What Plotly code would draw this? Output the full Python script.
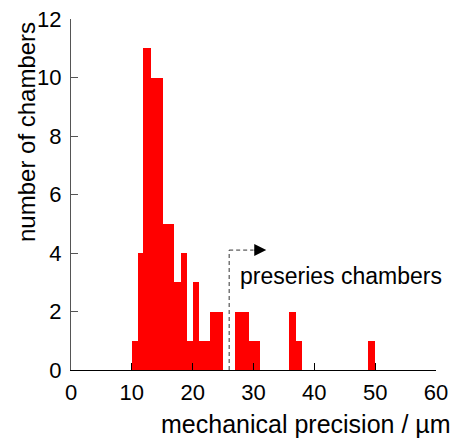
import plotly.graph_objects as go

# Histogram data (bin edges in µm, counts per bin)
bin_edges_main = [10.1, 11.0, 11.9, 13.2, 15.1, 17.0, 18.0, 19.1, 20.0, 21.1, 22.8, 25.0]
counts_main = [1, 4, 11, 10, 5, 3, 4, 1, 3, 1, 2]
bin_edges_b = [27.0, 29.2, 31.1]
counts_b = [2, 1]
bin_edges_c = [35.9, 37.0, 37.9]
counts_c = [2, 1]
bin_edges_d = [48.9, 50.0]
counts_d = [1]

x_ticks = [0, 10, 20, 30, 40, 50, 60]
y_ticks = [0, 2, 4, 6, 8, 10, 12]

preseries_start = 26.0
arrow_level = 4.1

centers, widths, heights = [], [], []
for edges, cnts in [(bin_edges_main, counts_main), (bin_edges_b, counts_b),
                    (bin_edges_c, counts_c), (bin_edges_d, counts_d)]:
    for i, c in enumerate(cnts):
        centers.append((edges[i] + edges[i + 1]) / 2)
        widths.append(edges[i + 1] - edges[i])
        heights.append(c)

FONT = "Liberation Sans, Arial, Helvetica, sans-serif"

fig = go.Figure()
fig.add_trace(go.Bar(x=centers, y=heights, width=widths,
                     marker=dict(color="#ff0000", line=dict(width=0)),
                     showlegend=False, hoverinfo="x+y"))

fig.update_layout(
    width=450, height=441,
    margin=dict(l=71, r=14, t=19, b=71),
    paper_bgcolor="white", plot_bgcolor="white",
    font=dict(family=FONT, size=22, color="black"),
    bargap=0,
    showlegend=False,
)
fig.update_xaxes(range=[0, 60], tickvals=x_ticks, ticktext=[str(v) for v in x_ticks],
                 showline=True, linecolor="black", linewidth=1,
                 ticks="inside", ticklen=7, tickcolor="black", tickwidth=1,
                 showgrid=False, zeroline=False, tickfont=dict(size=22),
                 ticklabelstandoff=3, automargin=False)
fig.update_yaxes(range=[0, 12], tickvals=y_ticks, ticktext=[str(v) for v in y_ticks],
                 showline=True, linecolor="#555555", linewidth=1,
                 ticks="inside", ticklen=7, tickcolor="#555555", tickwidth=1,
                 showgrid=False, zeroline=False, tickfont=dict(size=22),
                 ticklabelstandoff=4, automargin=False)

# dashed marker line for preseries chambers
fig.add_shape(type="line", xref="x", yref="y", x0=preseries_start, y0=0,
              x1=preseries_start, y1=arrow_level,
              line=dict(color="#333333", width=1, dash="4px,3px"))
fig.add_shape(type="line", xref="x", yref="y", x0=preseries_start, y0=arrow_level,
              x1=preseries_start + 4.0, y1=arrow_level,
              line=dict(color="#333333", width=1, dash="4px,3px"))
fig.add_annotation(x=preseries_start + 6.1, y=arrow_level, xref="x", yref="y",
                   ax=preseries_start + 3.9, ay=arrow_level, axref="x", ayref="y",
                   text="", showarrow=True, arrowhead=2, arrowsize=2.0,
                   arrowwidth=1.2, arrowcolor="black", standoff=0)
fig.add_annotation(x=27.5, y=3.2, xref="x", yref="y", text="preseries chambers",
                   showarrow=False, xanchor="left", yanchor="middle",
                   font=dict(size=23, family=FONT, color="black"))

# axis titles
fig.add_annotation(x=1, y=0, xref="paper", yref="paper", xanchor="right", yanchor="middle",
                   xshift=17, yshift=-54, text="mechanical precision / µm", showarrow=False,
                   font=dict(size=25, family=FONT, color="black"))
fig.add_annotation(x=0, y=0, xref="paper", yref="paper", xanchor="center", yanchor="middle",
                   xshift=-45, yshift=238, text="number of chambers", textangle=-90,
                   showarrow=False, font=dict(size=24, family=FONT, color="black"))

fig.write_html("out.html")
